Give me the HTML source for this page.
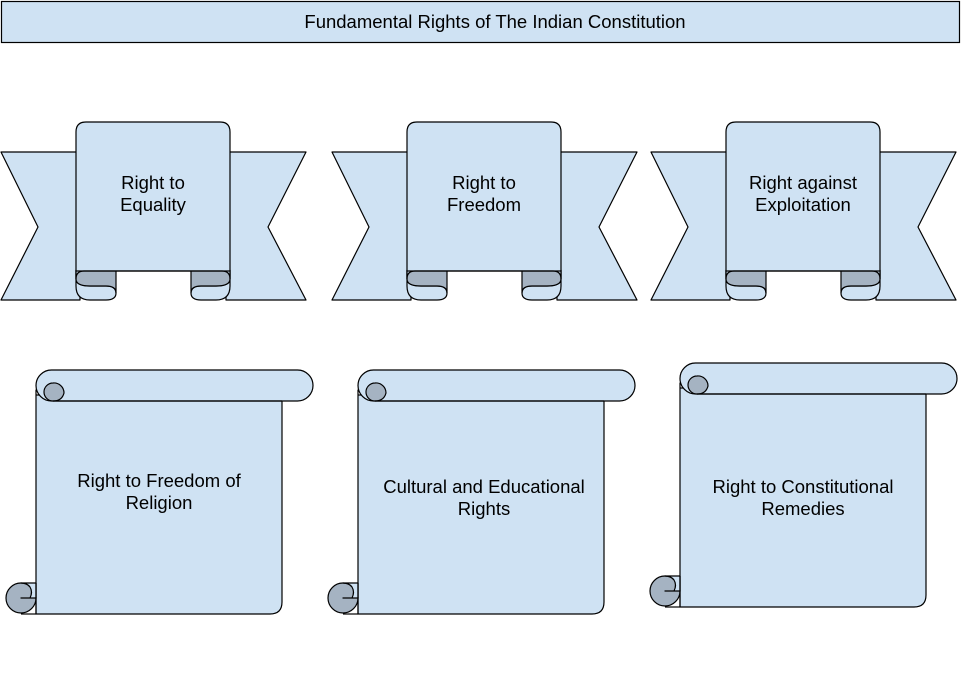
<!DOCTYPE html>
<html><head><meta charset="utf-8"><style>
html,body{margin:0;padding:0;background:#fff;}
svg{display:block;}
text{font-family:"Liberation Sans",Arial,sans-serif;font-size:18.5px;fill:#000;text-anchor:middle;}
</style></head><body>
<svg width="962" height="687" viewBox="0 0 962 687" xmlns="http://www.w3.org/2000/svg">
<defs>
<g id="ribbon" stroke="#000" stroke-width="1.2" stroke-linejoin="round">
  <polygon points="1,152 80,152 80,300 1,300 38,227" fill="#cfe2f3"/>
  <polygon points="306,152 226,152 226,300 306,300 268,227" fill="#cfe2f3"/>
  <path d="M76,270 V286 Q76,300 90,300 H106 Q116,300 116,293 Q116,286 106,286 H90 Q76,286 76,279" fill="#cfe2f3"/>
  <path d="M76,270 H116 V293 Q116,286 106,286 H90 Q76,286 76,279 Z" fill="#a5b3c2"/>
  <path d="M230,270 V286 Q230,300 216,300 H201 Q191,300 191,293 Q191,286 201,286 H216 Q230,286 230,279" fill="#cfe2f3"/>
  <path d="M230,270 H191 V293 Q191,286 201,286 H216 Q230,286 230,279 Z" fill="#a5b3c2"/>
  <path d="M76,279 V132 Q76,122 86,122 H220 Q230,122 230,132 V279 Q230,271 222,271 H84 Q76,271 76,279 Z" fill="#cfe2f3"/>
  <line x1="76" y1="271" x2="230" y2="271"/>
</g>
<g id="scroll" stroke="#000" stroke-width="1.2" stroke-linejoin="round">
  <path d="M36,390 V614 H270 Q282,614 282,602 V395 H36 Z" fill="#cfe2f3"/>
  <rect x="36" y="370" width="277" height="31" rx="15.5" fill="#cfe2f3"/>
  <path d="M53,401 A9,9 0 0 1 53,383 A10,10 0 0 1 64,393 Q62,401 53,401 Z" fill="#a5b3c2"/>
  <line x1="53" y1="401" x2="282" y2="401"/>
  <circle cx="21" cy="598" r="15" fill="#a5b3c2"/>
  <path d="M21,598 H30 Q33,592 30,587 Q27,583 21,583 H36 V598 Z" fill="#cfe2f3"/>
  <line x1="36" y1="583" x2="36" y2="614"/>
  <line x1="21" y1="614" x2="36" y2="614"/>
</g>
</defs>
<rect x="1.5" y="1.5" width="958" height="41" fill="#cfe2f3" stroke="#000" stroke-width="1.2"/>
<text x="495" y="28">Fundamental Rights of The Indian Constitution</text>

<use href="#ribbon" x="0" y="0"/>
<use href="#ribbon" x="331" y="0"/>
<use href="#ribbon" x="650" y="0"/>
<text x="153" y="189">Right to</text><text x="153" y="211">Equality</text>
<text x="484" y="189">Right to</text><text x="484" y="211">Freedom</text>
<text x="803" y="189">Right against</text><text x="803" y="211">Exploitation</text>

<use href="#scroll" x="0" y="0"/>
<use href="#scroll" x="322" y="0"/>
<use href="#scroll" x="644" y="-7"/>
<text x="159" y="487">Right to Freedom of</text><text x="159" y="509">Religion</text>
<text x="484" y="493">Cultural and Educational</text><text x="484" y="515">Rights</text>
<text x="803" y="493">Right to Constitutional</text><text x="803" y="515">Remedies</text>
</svg>
</body></html>
